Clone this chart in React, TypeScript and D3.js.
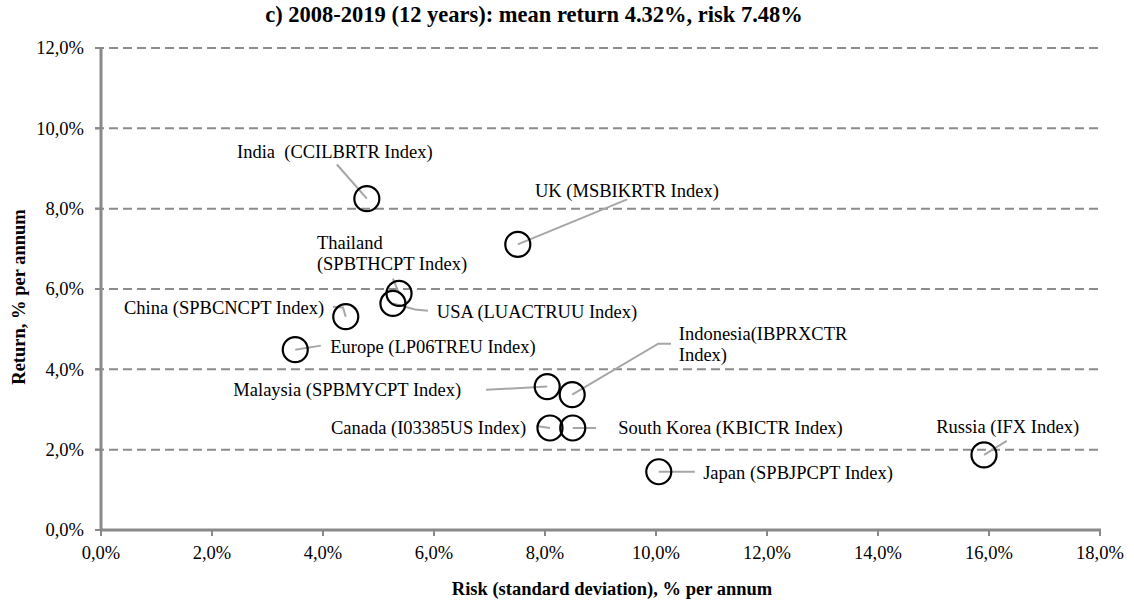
import React from "react";
import * as d3 from "d3";

// ---- data ----
const names = ["India", "UK", "Thailand", "USA", "China", "Europe", "Malaysia", "Indonesia", "Canada", "South Korea", "Japan", "Russia"];
const risk = [4.79, 7.51, 5.37, 5.26, 4.41, 3.50, 8.04, 8.49, 8.09, 8.50, 10.05, 15.91];
const ret = [8.25, 7.11, 5.89, 5.64, 5.31, 4.49, 3.57, 3.37, 2.54, 2.54, 1.45, 1.87];
const labelLines = [
  ["India  (CCILBRTR Index)"],
  ["UK (MSBIKRTR Index)"],
  ["Thailand", "(SPBTHCPT Index)"],
  ["USA (LUACTRUU Index)"],
  ["China (SPBCNCPT Index)"],
  ["Europe (LP06TREU Index)"],
  ["Malaysia (SPBMYCPT Index)"],
  ["Indonesia(IBPRXCTR", "Index)"],
  ["Canada (I03385US Index)"],
  ["South Korea (KBICTR Index)"],
  ["Japan (SPBJPCPT Index)"],
  ["Russia (IFX Index)"],
];
// label anchor in data units [risk, return of first line]
const labelAt: [number, number][] = [
  [2.45, 9.43], [7.82, 8.45], [3.89, 7.16], [6.05, 5.44], [4.02, 5.54], [4.13, 4.56],
  [6.49, 3.49], [10.41, 4.89], [7.66, 2.54], [9.32, 2.54], [10.85, 1.42], [15.05, 2.57],
];
const labelAnchor = ["start", "start", "start", "start", "end", "start", "end", "start", "end", "start", "start", "start"];
// leader line vertices (data units) from label towards point
const leaders: [number, number][][] = [
  [[4.25, 9.10]],
  [[9.48, 8.23]],
  [[5.26, 6.26]],
  [[5.89, 5.46], [5.66, 5.49]],
  [[4.18, 5.56], [4.36, 5.54]],
  [[3.96, 4.59]],
  [[6.94, 3.49]],
  [[10.27, 4.64], [10.04, 4.64]],
  [[7.84, 2.59]],
  [[8.92, 2.54]],
  [[10.70, 1.45]],
  [[16.32, 2.22]],
];
const xTicks = [0, 2, 4, 6, 8, 10, 12, 14, 16, 18];
const yTicks = [0, 2, 4, 6, 8, 10, 12];
const title = "c) 2008-2019 (12 years): mean return 4.32%, risk 7.48%";
const xTitle = "Risk (standard deviation), % per annum";
const yTitle = "Return, % per annum";

const W = 1134, H = 601;
const FONT = "'Liberation Serif', 'Times New Roman', serif";
const fmt = (v: number) => v.toFixed(1).replace(".", ",") + "%";

export default function App() {
  const x = d3.scaleLinear().domain([0, 18]).range([101, 1100]);
  const y = d3.scaleLinear().domain([0, 12]).range([530, 48]);
  const lineGen = d3.line<[number, number]>().x((d) => x(d[0])).y((d) => y(d[1]));
  const axisColor = "#898989";
  const lineSpacing = 21 / 40.1; // second-line offset in return units

  return (
    <svg width={W} height={H} style={{ position: "absolute", left: 0, top: 0, background: "#fff" }} fontFamily={FONT}>
      <rect width={W} height={H} fill="#fff" />
      {/* gridlines */}
      {yTicks.filter((t) => t > 0).map((t) => (
        <line key={"g" + t} x1={95} x2={x(18)} y1={y(t)} y2={y(t)} stroke="#8c8c8c" strokeWidth={2} strokeDasharray="9,5" />
      ))}
      {/* y axis */}
      <line x1={x(0)} x2={x(0)} y1={y(12)} y2={y(0)} stroke={axisColor} strokeWidth={3} />
      {yTicks.map((t) => (
        <g key={"yt" + t}>
          <line x1={95} x2={x(0)} y1={y(t)} y2={y(t)} stroke={axisColor} strokeWidth={2} />
          <text x={84} y={y(t)} dy="0.35em" textAnchor="end" fontSize={18.5} fill="#000">{fmt(t)}</text>
        </g>
      ))}
      {/* x axis */}
      <line x1={x(0) - 1} x2={x(18) + 1} y1={y(0)} y2={y(0)} stroke={axisColor} strokeWidth={3} />
      {xTicks.map((t) => (
        <g key={"xt" + t}>
          <line x1={x(t)} x2={x(t)} y1={y(0)} y2={y(0) + 6} stroke={axisColor} strokeWidth={2} />
          <text x={x(t)} y={559} textAnchor="middle" fontSize={18.5} fill="#000">{fmt(t)}</text>
        </g>
      ))}
      {/* leader lines */}
      {names.map((n, i) => (
        <path key={"l" + n} d={lineGen([...leaders[i], [risk[i], ret[i]]]) || ""} fill="none" stroke="#a6a6a6" strokeWidth={2} />
      ))}
      {/* points */}
      {names.map((n, i) => (
        <circle key={"c" + n} cx={x(risk[i])} cy={y(ret[i])} r={12.5} fill="none" stroke="#000" strokeWidth={2.2} />
      ))}
      {/* labels */}
      {names.map((n, i) => (
        <text key={"t" + n} x={x(labelAt[i][0])} y={y(labelAt[i][1])} textAnchor={labelAnchor[i] as any} fontSize={18.5} fill="#000" style={{ whiteSpace: "pre" }}>
          {labelLines[i].map((s, j) => (
            <tspan key={j} x={x(labelAt[i][0])} y={y(labelAt[i][1] - j * lineSpacing)} dy="0.35em">{s}</tspan>
          ))}
        </text>
      ))}
      {/* titles */}
      <text x={534} y={22} textAnchor="middle" fontSize={22.5} fontWeight="bold" fill="#000">{title}</text>
      <text x={612} y={595} textAnchor="middle" fontSize={18.5} fontWeight="bold" fill="#000">{xTitle}</text>
      <text transform={`translate(25,297) rotate(-90)`} textAnchor="middle" fontSize={18.5} fontWeight="bold" fill="#000">{yTitle}</text>
    </svg>
  );
}
